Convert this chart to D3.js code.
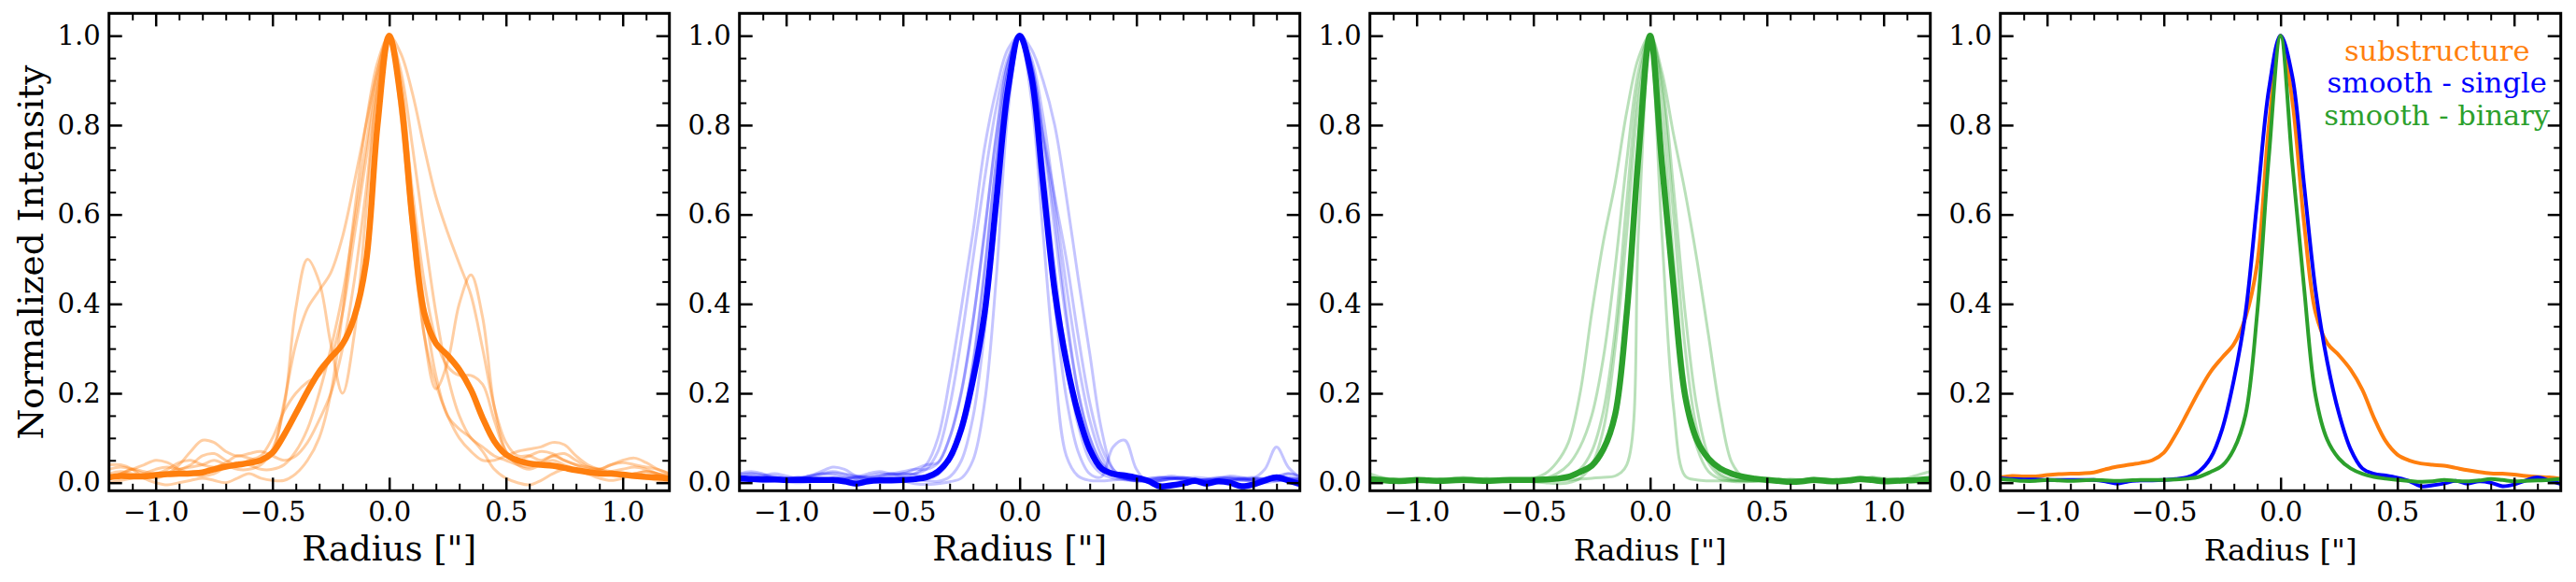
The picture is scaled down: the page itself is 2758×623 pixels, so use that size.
<!DOCTYPE html>
<html>
<head>
<meta charset="utf-8">
<script src="https://cdn.jsdelivr.net/npm/d3@7"></script>
<style>
  body { margin: 0; background: #fff; }
  text { font-family: "DejaVu Serif", serif; }
</style>
</head>
<body>
<div id="chart"></div>
<script>
// radial profiles, sampled every 0.05"
const radius = [-1.2,-1.15,-1.1,-1.05,-1.0,-0.95,-0.9,-0.85,-0.8,-0.75,-0.7,-0.65,-0.6,-0.55,-0.5,-0.45,-0.4,-0.35,-0.3,-0.25,-0.2,-0.15,-0.1,-0.05,0,0.05,0.1,0.15,0.2,0.25,0.3,0.35,0.4,0.45,0.5,0.55,0.6,0.65,0.7,0.75,0.8,0.85,0.9,0.95,1.0,1.05,1.1,1.15,1.2]

// substructure sample
const subMean = [0.012,0.015,0.014,0.014,0.017,0.019,0.02,0.021,0.023,0.03,0.036,0.04,0.044,0.05,0.067,0.107,0.155,0.204,0.248,0.28,0.31,0.37,0.49,0.80,1.0,0.856,0.584,0.38,0.312,0.285,0.253,0.208,0.145,0.093,0.063,0.05,0.043,0.04,0.038,0.033,0.028,0.024,0.021,0.02,0.018,0.015,0.013,0.012,0.009]
const subProfiles = [
  [0.03,0.035,0.03,0.02,0.015,0.02,0.03,0.035,0.04,0.05,0.04,0.03,0.03,0.04,0.075,0.17,0.39,0.5,0.45,0.31,0.2,0.33,0.6,0.88,1.0,0.87,0.6,0.33,0.21,0.27,0.4,0.465,0.37,0.17,0.07,0.04,0.03,0.04,0.05,0.04,0.03,0.02,0.02,0.025,0.03,0.035,0.03,0.02,0.015],
  [0.01,0.02,0.03,0.025,0.02,0.03,0.045,0.05,0.04,0.035,0.045,0.06,0.055,0.05,0.07,0.18,0.31,0.39,0.43,0.47,0.55,0.67,0.8,0.92,1.0,0.96,0.87,0.75,0.64,0.56,0.49,0.42,0.3,0.17,0.09,0.06,0.06,0.05,0.06,0.05,0.04,0.03,0.03,0.04,0.045,0.04,0.035,0.03,0.02],
  [0.0,0.005,0.01,0.02,0.03,0.035,0.03,0.04,0.06,0.065,0.05,0.04,0.05,0.06,0.1,0.16,0.2,0.225,0.24,0.28,0.38,0.55,0.72,0.9,1.0,0.88,0.65,0.45,0.32,0.26,0.24,0.24,0.22,0.14,0.07,0.05,0.06,0.07,0.065,0.05,0.04,0.035,0.03,0.02,0.015,0.02,0.025,0.02,0.01],
  [0.02,0.025,0.02,0.015,0.01,0.02,0.04,0.07,0.095,0.09,0.07,0.06,0.065,0.07,0.06,0.05,0.06,0.09,0.14,0.2,0.3,0.45,0.65,0.88,1.0,0.82,0.55,0.33,0.22,0.15,0.1,0.07,0.05,0.05,0.06,0.07,0.075,0.08,0.09,0.085,0.06,0.04,0.03,0.025,0.02,0.02,0.025,0.02,0.015],
  [0.04,0.04,0.03,0.01,0.0,-0.005,0.0,0.005,0.01,0.005,0.0,0.01,0.02,0.01,0.005,0.005,0.02,0.05,0.1,0.2,0.38,0.6,0.8,0.94,1.0,0.9,0.62,0.4,0.24,0.15,0.12,0.1,0.07,0.03,0.01,0.0,-0.005,0.005,0.02,0.03,0.03,0.02,0.01,0.005,0.01,0.02,0.01,0.005,0.0],
  [0.01,0.02,0.03,0.04,0.05,0.045,0.03,0.02,0.015,0.02,0.035,0.045,0.04,0.03,0.03,0.04,0.07,0.12,0.2,0.3,0.42,0.58,0.75,0.92,1.0,0.92,0.75,0.56,0.38,0.24,0.15,0.1,0.08,0.06,0.05,0.04,0.035,0.045,0.06,0.065,0.05,0.035,0.03,0.04,0.05,0.055,0.045,0.03,0.02]
]

// smooth, single stars
const singleMean = [0.01,0.008,0.007,0.007,0.006,0.006,0.006,0.006,0.006,0.003,-0.002,0.003,0.005,0.005,0.006,0.008,0.012,0.025,0.055,0.12,0.23,0.38,0.63,0.88,1.0,0.91,0.67,0.43,0.27,0.155,0.075,0.032,0.02,0.016,0.011,0.004,-0.008,-0.006,-0.002,0.004,-0.002,0.003,0.0,-0.008,-0.004,0.005,0.012,0.005,-0.003]
const singleProfiles = [
  [0.015,0.02,0.018,0.01,0.005,0.008,0.015,0.025,0.035,0.03,0.015,0.01,0.015,0.02,0.015,0.02,0.04,0.1,0.23,0.39,0.56,0.75,0.88,0.97,1.0,0.97,0.9,0.8,0.64,0.46,0.29,0.12,0.03,0.01,0.005,0.005,0.01,0.015,0.01,0.005,0.008,0.012,0.01,0.006,0.004,0.008,0.015,0.02,0.012],
  [0.005,0.008,0.012,0.015,0.01,0.005,0.003,0.006,0.01,0.008,0.012,0.02,0.025,0.02,0.02,0.02,0.03,0.07,0.17,0.32,0.5,0.68,0.84,0.95,1.0,0.95,0.82,0.63,0.44,0.27,0.14,0.06,0.02,0.008,0.005,0.008,0.012,0.01,0.006,0.004,0.006,0.01,0.015,0.012,0.006,0.004,0.01,0.02,0.015],
  [0.02,0.025,0.02,0.012,0.008,0.01,0.015,0.02,0.018,0.012,0.01,0.015,0.02,0.018,0.02,0.03,0.04,0.045,0.1,0.2,0.36,0.56,0.78,0.94,1.0,0.93,0.78,0.64,0.5,0.33,0.18,0.08,0.03,0.01,0.004,0.002,0.004,0.008,0.01,0.012,0.01,0.006,0.004,0.005,0.008,0.01,0.012,0.01,0.006],
  [0.0,0.004,0.008,0.006,0.002,0.0,0.002,0.006,0.01,0.012,0.008,0.004,0.006,0.01,0.012,0.01,0.008,0.018,0.05,0.13,0.27,0.48,0.72,0.92,1.0,0.92,0.72,0.48,0.27,0.13,0.05,0.02,0.01,0.006,0.004,0.006,0.01,0.012,0.008,0.004,0.002,0.004,0.008,0.006,0.002,0.0,0.004,0.01,0.008],
  [0.01,0.006,0.002,0.004,0.008,0.012,0.01,0.006,0.002,0.0,0.004,0.008,0.012,0.01,0.004,-0.002,-0.004,-0.002,0.002,0.01,0.05,0.18,0.46,0.83,1.0,0.86,0.56,0.26,0.06,0.015,0.005,0.004,0.006,0.008,0.006,0.004,0.006,0.01,0.012,0.008,0.004,0.002,0.004,0.008,0.01,0.006,0.004,0.006,0.01],
  [0.012,0.015,0.01,0.006,0.008,0.012,0.01,0.006,0.004,0.008,0.014,0.012,0.008,0.01,0.01,0.008,0.004,0.003,0.013,0.049,0.146,0.339,0.618,0.886,1.0,0.938,0.775,0.6,0.38,0.204,0.101,0.044,0.017,0.008,0.004,0.003,0.005,0.008,0.01,0.008,0.005,0.004,0.006,0.01,0.012,0.008,0.005,0.004,0.006],
  [0.005,0.01,0.015,0.02,0.015,0.01,0.012,0.018,0.022,0.018,0.012,0.008,0.01,0.015,0.02,0.018,0.012,0.02,0.05,0.12,0.26,0.47,0.72,0.92,1.0,0.9,0.66,0.4,0.19,0.07,0.02,0.013,0.08,0.095,0.03,0.0,0.004,0.01,0.012,0.008,0.006,0.008,0.01,0.008,0.006,0.01,0.015,0.012,0.008],
  [0.02,0.02,0.015,0.01,0.008,0.01,0.015,0.02,0.025,0.02,0.015,0.012,0.015,0.02,0.025,0.03,0.03,0.044,0.101,0.204,0.361,0.564,0.775,0.938,1.0,0.938,0.775,0.564,0.361,0.204,0.101,0.044,0.02,0.01,0.008,0.01,0.012,0.01,0.006,0.004,0.006,0.01,0.012,0.01,0.01,0.03,0.08,0.035,0.012]
]

// smooth, binary stars
const binaryMean = [0.008,0.006,0.004,0.004,0.006,0.005,0.004,0.005,0.006,0.005,0.004,0.005,0.006,0.006,0.006,0.007,0.009,0.013,0.024,0.038,0.075,0.152,0.38,0.73,1.0,0.717,0.44,0.194,0.096,0.054,0.032,0.02,0.013,0.009,0.006,0.004,0.002,0.003,0.006,0.004,0.003,0.005,0.008,0.006,0.003,0.004,0.005,0.006,0.008]
const binaryProfiles = [
  [0.02,0.012,0.008,0.006,0.005,0.006,0.008,0.01,0.012,0.01,0.008,0.007,0.006,0.008,0.01,0.02,0.045,0.09,0.2,0.38,0.54,0.67,0.83,0.95,1.0,0.92,0.78,0.65,0.5,0.33,0.16,0.045,0.012,0.005,0.006,0.005,0.004,0.006,0.01,0.008,0.005,0.004,0.008,0.012,0.008,0.005,0.01,0.018,0.025],
  [0.004,0.006,0.008,0.006,0.004,0.003,0.005,0.007,0.006,0.004,0.003,0.004,0.006,0.005,0.003,0.004,0.005,0.006,0.008,0.01,0.012,0.015,0.04,0.56,1.0,0.56,0.17,0.015,0.006,0.004,0.004,0.004,0.005,0.005,0.006,0.005,0.004,0.003,0.004,0.006,0.008,0.006,0.004,0.003,0.005,0.007,0.006,0.004,0.003],
  [0.005,0.004,0.006,0.008,0.006,0.004,0.005,0.006,0.008,0.006,0.004,0.003,0.002,0.003,0.004,0.005,0.008,0.015,0.03,0.07,0.16,0.34,0.63,0.89,1.0,0.88,0.6,0.3,0.12,0.045,0.015,0.006,0.004,0.003,0.004,0.005,0.004,0.003,0.005,0.008,0.006,0.004,0.006,0.012,0.008,0.005,0.004,0.006,0.008],
  [0.01,0.008,0.005,0.003,0.004,0.006,0.008,0.007,0.005,0.004,0.006,0.008,0.006,0.004,0.002,0.0,-0.002,0.0,0.01,0.04,0.12,0.3,0.56,0.85,1.0,0.83,0.5,0.22,0.08,0.025,0.008,0.003,0.002,0.004,0.006,0.008,0.006,0.004,0.005,0.007,0.006,0.004,0.005,0.007,0.01,0.008,0.005,0.004,0.006],
  [0.006,0.008,0.006,0.004,0.005,0.007,0.006,0.004,0.005,0.008,0.01,0.008,0.006,0.005,0.006,0.01,0.02,0.04,0.08,0.15,0.28,0.48,0.72,0.92,1.0,0.9,0.66,0.38,0.17,0.06,0.02,0.008,0.005,0.004,0.005,0.006,0.008,0.006,0.004,0.005,0.007,0.01,0.012,0.008,0.005,0.004,0.006,0.008,0.01]
]

const xMajor = [-1.0, -0.5, 0.0, 0.5, 1.0]
const xMinor = [-1.1,-0.9,-0.8,-0.7,-0.6,-0.4,-0.3,-0.2,-0.1,0.1,0.2,0.3,0.4,0.6,0.7,0.8,0.9,1.1]
const yMajor = [0.0, 0.2, 0.4, 0.6, 0.8, 1.0]
const yMinor = [0.05,0.1,0.15,0.25,0.3,0.35,0.45,0.5,0.55,0.65,0.7,0.75,0.85,0.9,0.95]

const legendLabels = ["substructure", "smooth - single", "smooth - binary"]
const colors = ["#ff7f0e", "#0000ff", "#2ca02c"]

// Dimensions
const dims = { width: 2758, height: 623, left: 116.7, top: 14.3, pw: 600, ph: 511, gap: 75 }

const svg = d3.select("#chart")
  .append("svg")
  .attr("width", dims.width)
  .attr("height", dims.height)

const x = d3.scaleLinear().domain([-1.2, 1.2]).range([0, dims.pw])
const y = d3.scaleLinear().domain([-0.018, 1.05]).range([dims.ph, 0])

const line = d3.line()
  .x((d, i) => x(radius[i]))
  .y(d => y(d))
  .curve(d3.curveCatmullRom)

svg.append("clipPath").attr("id", "clip")
  .append("rect").attr("width", dims.pw).attr("height", dims.ph)

const panels = [
  { profiles: subProfiles, means: [subMean], colors: [colors[0]], alpha: 0.38, labelSize: 37 },
  { profiles: singleProfiles, means: [singleMean], colors: [colors[1]], alpha: 0.23, labelSize: 37 },
  { profiles: binaryProfiles, means: [binaryMean], colors: [colors[2]], alpha: 0.33, labelSize: 32.5 },
  { profiles: [], means: [subMean, singleMean, binaryMean], colors: colors, alpha: 1, labelSize: 32.5 }
]

const fmt = d3.format(".1f")

panels.forEach((p, k) => {
  const g = svg.append("g")
    .attr("transform", `translate(${dims.left + k * (dims.pw + dims.gap)},${dims.top})`)

  const plot = g.append("g").attr("clip-path", "url(#clip)")

  plot.selectAll(".faint")
    .data(p.profiles)
    .join("path")
    .attr("class", "faint")
    .attr("d", line)
    .attr("fill", "none")
    .attr("stroke", p.colors[0])
    .attr("stroke-opacity", p.alpha)
    .attr("stroke-width", 3)
    .attr("stroke-linejoin", "round")

  plot.selectAll(".mean")
    .data(p.means)
    .join("path")
    .attr("class", "mean")
    .attr("d", line)
    .attr("fill", "none")
    .attr("stroke", (d, i) => p.colors[i])
    .attr("stroke-width", k === 3 ? 4 : 6.5)
    .attr("stroke-linejoin", "round")

  // ticks on all four sides, pointing in
  const axes = [
    [d3.axisBottom(x), `translate(0,${dims.ph})`, xMajor, xMinor, true],
    [d3.axisTop(x), null, xMajor, xMinor, false],
    [d3.axisLeft(y), null, yMajor, yMinor, true],
    [d3.axisRight(y), `translate(${dims.pw},0)`, yMajor, yMinor, false]
  ]
  axes.forEach(([ax, tr, major, minor, labels], j) => {
    const a = g.append("g").attr("transform", tr)
      .call(ax.tickValues(major).tickSize(-14).tickPadding(j === 0 ? 12 : 9)
        .tickFormat(labels ? fmt : ""))
    a.select(".domain").remove()
    a.selectAll("line").attr("stroke-width", 2.5)
    a.selectAll("text").attr("font-size", 29).attr("font-family", "DejaVu Serif").attr("fill", "#000")
    const b = g.append("g").attr("transform", tr)
      .call(ax.tickValues(minor).tickSize(-7.5).tickFormat(""))
    b.select(".domain").remove()
    b.selectAll("line").attr("stroke-width", 2)
  })

  g.append("rect")
    .attr("width", dims.pw)
    .attr("height", dims.ph)
    .attr("fill", "none")
    .attr("stroke", "#000")
    .attr("stroke-width", 3)

  g.append("text")
    .attr("x", dims.pw / 2)
    .attr("y", 585.5)
    .attr("text-anchor", "middle")
    .attr("font-size", p.labelSize)
    .text('Radius ["]')

  if (k === 0) {
    g.append("text")
      .attr("transform", `translate(${46 - dims.left},${270 - dims.top}) rotate(-90)`)
      .attr("text-anchor", "middle")
      .attr("font-size", 37.5)
      .text("Normalized Intensity")
  }

  if (k === 3) {
    g.selectAll(".legend")
      .data(legendLabels)
      .join("text")
      .attr("x", 467.5)
      .attr("y", (d, i) => 50.7 + i * 34.5)
      .attr("text-anchor", "middle")
      .attr("font-size", 30.5)
      .attr("fill", (d, i) => colors[i])
      .text(d => d)
  }
})
</script>
</body>
</html>
